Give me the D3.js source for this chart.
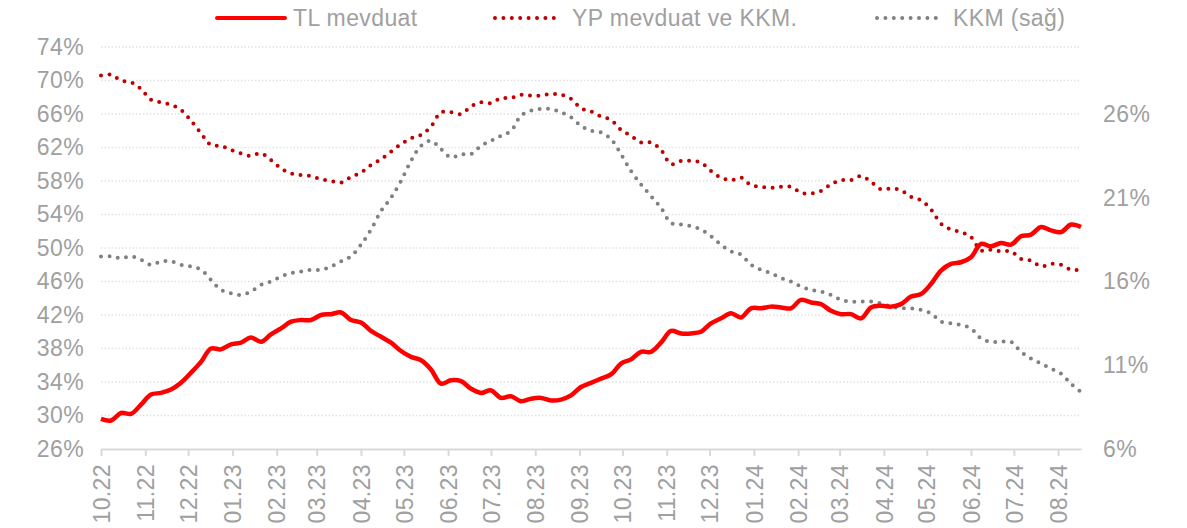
<!DOCTYPE html>
<meta charset="utf-8">
<style>
body { margin: 0; background: #fff; }
text { font-family: "Liberation Sans", Arial, sans-serif; font-size: 23px; fill: #a0a0a0; letter-spacing: 0.4px; }
.grid line { stroke: #e2e2e2; stroke-width: 1.5; stroke-dasharray: 1.5 2; }
.line { fill: none; }
</style>
<body>
<script src="https://cdn.jsdelivr.net/npm/d3@7"></script>
<script>
// weekly observations, first week 07.10.2022
var startDate = new Date(2022, 9, 7);

var tlMevduat = [
  29.6, 29.4, 30.3, 30.2, 31.3, 32.5, 32.7, 33.1, 33.9, 35.1,
  36.4, 38.0, 37.9, 38.5, 38.7, 39.3, 38.8, 39.7, 40.4, 41.2,
  41.4, 41.4, 42.0, 42.1, 42.3, 41.4, 41.1, 40.1, 39.4, 38.7,
  37.7, 37.0, 36.6, 35.5, 33.8, 34.2, 34.1, 33.2, 32.7, 33.0,
  32.1, 32.3, 31.7, 32.0, 32.1, 31.8, 31.9, 32.4, 33.4, 33.9,
  34.4, 34.9, 36.2, 36.7, 37.6, 37.6, 38.7, 40.1, 39.8, 39.8,
  40.0, 41.0, 41.6, 42.2, 41.7, 42.8, 42.8, 43.0, 42.9, 42.8,
  43.8, 43.5, 43.3, 42.5, 42.1, 42.1, 41.6, 42.9, 43.1, 43.0,
  43.3, 44.2, 44.5, 45.7, 47.3, 48.1, 48.3, 48.9, 50.5, 50.2,
  50.6, 50.4, 51.4, 51.6, 52.5, 52.1, 51.9, 52.8, 52.5
];

var ypMevduatKkm = [
  70.6, 70.7, 70.0, 69.8, 69.0, 67.7, 67.4, 67.1, 66.5, 65.2,
  63.7, 62.3, 62.2, 61.7, 61.3, 61.0, 61.3, 60.5, 59.5, 58.9,
  58.7, 58.6, 58.2, 58.0, 57.8, 58.5, 59.0, 59.9, 60.6, 61.5,
  62.4, 63.1, 63.5, 64.5, 66.2, 66.2, 66.0, 66.9, 67.4, 67.3,
  67.9, 67.9, 68.3, 68.2, 68.2, 68.4, 68.3, 67.8, 66.7, 66.3,
  65.7, 65.3, 64.1, 63.4, 62.6, 62.6, 61.7, 60.0, 60.4, 60.4,
  60.2, 59.2, 58.4, 58.1, 58.4, 57.5, 57.3, 57.2, 57.3, 57.3,
  56.6, 56.5, 56.8, 57.6, 58.1, 58.1, 58.6, 57.9, 57.0, 57.1,
  56.9, 56.1, 55.7, 54.6, 52.9, 52.2, 51.9, 51.3, 49.7, 49.8,
  49.6, 49.6, 48.7, 48.5, 47.8, 48.1, 48.0, 47.4, 47.4
];

// right axis
var kkm = [
  17.5, 17.5, 17.4, 17.5, 17.3, 17.0, 17.2, 17.2, 17.0, 16.9,
  16.7, 16.1, 15.5, 15.3, 15.2, 15.4, 15.8, 16.0, 16.3, 16.5,
  16.6, 16.7, 16.7, 16.9, 17.2, 17.5, 18.2, 19.1, 20.2, 21.0,
  22.0, 23.2, 24.1, 24.4, 23.9, 23.4, 23.6, 23.6, 24.1, 24.4,
  24.7, 25.0, 25.9, 26.2, 26.3, 26.3, 26.1, 25.8, 25.3, 25.0,
  24.9, 24.5, 23.6, 22.6, 21.8, 21.1, 20.4, 19.5, 19.4, 19.3,
  19.1, 18.7, 18.2, 17.8, 17.6, 17.0, 16.7, 16.5, 16.2, 16.0,
  15.7, 15.5, 15.4, 15.2, 14.9, 14.8, 14.8, 14.8, 14.7, 14.5,
  14.4, 14.4, 14.3, 14.1, 13.6, 13.5, 13.4, 13.2, 12.6, 12.4,
  12.4, 12.4, 11.8, 11.4, 11.1, 10.8, 10.5, 9.9, 9.4
];

var monthLabels = ["10.22","11.22","12.22","01.23","02.23","03.23","04.23","05.23",
  "06.23","07.23","08.23","09.23","10.23","11.23","12.23","01.24","02.24","03.24",
  "04.24","05.24","06.24","07.24","08.24"];
var leftTicks = [26, 30, 34, 38, 42, 46, 50, 54, 58, 62, 66, 70, 74];
var rightTicks = [6, 11, 16, 21, 26];
var seriesNames = ["TL mevduat", "YP mevduat ve KKM.", "KKM (sağ)"];

var width = 1187, height = 528;
var margin = {top: 47, right: 106, bottom: 79, left: 101};

var dates = tlMevduat.map(function(d, i) { return d3.timeDay.offset(startDate, 7 * i); });
var tickDates = monthLabels.map(function(d, i) { return d3.timeMonth.offset(startDate, i); });

var x = d3.scaleTime()
    .domain([dates[0], dates[dates.length - 1]])
    .range([margin.left, width - margin.right]);
var yL = d3.scaleLinear().domain([26, 74]).range([height - margin.bottom, margin.top]);
var yR = d3.scaleLinear().domain([6, 30]).range([height - margin.bottom, margin.top]);

var svg = d3.select("body").append("svg")
    .attr("width", width)
    .attr("height", height);

// gridlines
svg.append("g").attr("class", "grid")
  .selectAll("line")
  .data(leftTicks.slice(1))
  .enter().append("line")
    .attr("x1", margin.left)
    .attr("x2", width - margin.right)
    .attr("y1", function(d) { return yL(d); })
    .attr("y2", function(d) { return yL(d); });

// x axis
var xAxis = svg.append("g")
    .attr("transform", "translate(0," + (height - margin.bottom) + ")")
    .call(d3.axisBottom(x)
      .tickValues(tickDates)
      .tickFormat(function(d, i) { return monthLabels[i]; })
      .tickSize(7)
      .tickSizeOuter(0));
xAxis.select(".domain").attr("stroke", "#d9d9d9").attr("stroke-width", 2);
xAxis.selectAll(".tick line").attr("stroke", "#d9d9d9").attr("stroke-width", 2);
xAxis.selectAll(".tick text")
    .attr("transform", "rotate(-90)")
    .attr("text-anchor", "end")
    .attr("x", -15)
    .attr("y", 0)
    .attr("dy", "0.36em")
    .attr("fill", null);

// left axis
var leftAxis = svg.append("g")
    .attr("transform", "translate(" + margin.left + ",0)")
    .call(d3.axisLeft(yL).tickValues(leftTicks)
      .tickFormat(function(d) { return d + "%"; })
      .tickSize(0).tickPadding(17));
leftAxis.select(".domain").remove();
leftAxis.selectAll("text").attr("fill", null);

// right axis
var rightAxis = svg.append("g")
    .attr("transform", "translate(" + (width - margin.right) + ",0)")
    .call(d3.axisRight(yR).tickValues(rightTicks)
      .tickFormat(function(d) { return d + "%"; })
      .tickSize(0).tickPadding(22));
rightAxis.select(".domain").remove();
rightAxis.selectAll("text").attr("fill", null);

svg.selectAll(".tick text").attr("font-size", null).attr("font-family", null);

var lineL = d3.line()
    .x(function(d, i) { return x(dates[i]); })
    .y(function(d) { return yL(d); })
    .curve(d3.curveCatmullRom);
var lineR = d3.line()
    .x(function(d, i) { return x(dates[i]); })
    .y(function(d) { return yR(d); })
    .curve(d3.curveCatmullRom);

svg.append("path").attr("class", "line")
    .attr("d", lineR(kkm))
    .attr("stroke", "#808080").attr("stroke-width", 4)
    .attr("stroke-linecap", "round").attr("stroke-dasharray", "0 8.4");

svg.append("path").attr("class", "line")
    .attr("d", lineL(ypMevduatKkm))
    .attr("stroke", "#c00000").attr("stroke-width", 4)
    .attr("stroke-linecap", "round").attr("stroke-dasharray", "0 8.4");

svg.append("path").attr("class", "line")
    .attr("d", lineL(tlMevduat))
    .attr("stroke", "#ff0000").attr("stroke-width", 4.5)
    .attr("stroke-linejoin", "round");

// legend
var legend = [
  {x1: 217, x2: 285, tx: 293, color: "#ff0000", dash: null},
  {x1: 495, x2: 559, tx: 572, color: "#c00000", dash: "0 8.4"},
  {x1: 877, x2: 940, tx: 953, color: "#808080", dash: "0 8.4"}
];
var lg = svg.append("g").selectAll("g").data(legend).enter().append("g");
lg.append("line")
    .attr("x1", function(d) { return d.x1; })
    .attr("x2", function(d) { return d.x2; })
    .attr("y1", 18).attr("y2", 18)
    .attr("stroke", function(d) { return d.color; })
    .attr("stroke-width", 4)
    .attr("stroke-linecap", "round")
    .attr("stroke-dasharray", function(d) { return d.dash; });
lg.append("text")
    .attr("x", function(d) { return d.tx; })
    .attr("y", 18)
    .attr("dy", "0.36em")
    .text(function(d, i) { return seriesNames[i]; });
</script>
</body>
